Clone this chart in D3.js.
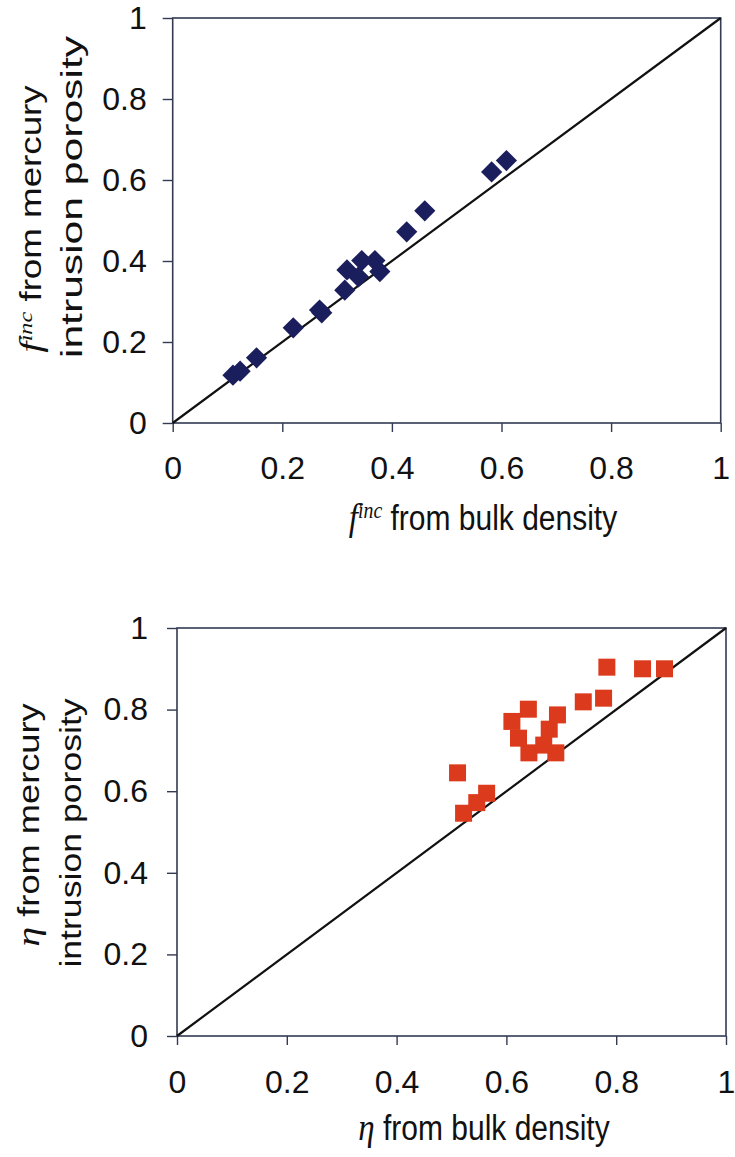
<!DOCTYPE html>
<html>
<head>
<meta charset="utf-8">
<script src="https://cdn.jsdelivr.net/npm/d3@7"></script>
<style>
  body { margin: 0; background: #fff; }
  svg { display: block; }
  .tick text { font-family: "Liberation Sans", Arial, sans-serif; font-size: 32px; fill: #111; }
  .tick line { stroke: #333a52; stroke-width: 1.4; }
</style>
</head>
<body>
<div id="chart"></div>
<script>
// top panel: f_inc, bulk density (x) vs mercury intrusion porosity (y)
const fincBulk = [0.110, 0.123, 0.153, 0.220, 0.268, 0.272, 0.314, 0.318, 0.339, 0.345, 0.369, 0.378, 0.427, 0.460, 0.582, 0.609];
const fincMercury = [0.118, 0.128, 0.161, 0.235, 0.279, 0.272, 0.328, 0.378, 0.361, 0.401, 0.401, 0.374, 0.472, 0.524, 0.620, 0.648];

// bottom panel: eta, bulk density (x) vs mercury intrusion porosity (y)
const etaBulk = [0.522, 0.546, 0.564, 0.511, 0.641, 0.690, 0.668, 0.622, 0.678, 0.610, 0.693, 0.640, 0.740, 0.777, 0.783, 0.848, 0.888];
const etaMercury = [0.546, 0.572, 0.595, 0.645, 0.694, 0.694, 0.713, 0.730, 0.752, 0.771, 0.787, 0.801, 0.819, 0.828, 0.904, 0.900, 0.900];

const tickValues = [0, 0.2, 0.4, 0.6, 0.8, 1];
const identityLine = [0, 1];

const width = 735, height = 1157;
const frameColor = "#333a52";

const svg = d3.select("#chart").append("svg")
    .attr("width", width)
    .attr("height", height);

const panels = [
    {
        xs: fincBulk, ys: fincMercury,
        left: 172.7, right: 720.7, top: 18, bottom: 423,
        marker: "diamond", color: "#1b1e5c", size: 225,
        symbol: "f", sup: "inc",
        yLines: [{ text: " from mercury", cx: 31, cy: 219, len: 268 },
                 { text: "intrusion porosity", cx: 72, cy: 197, len: 323 }],
        xTitle: { text: " from bulk density", cx: 483, y: 530 },
        xPad: 24, yPad: 16
    },
    {
        xs: etaBulk, ys: etaMercury,
        left: 177, right: 726, top: 628, bottom: 1036,
        marker: "square", color: "#dc3a1c", size: 289,
        symbol: "\u03b7", sup: null,
        yLines: [{ text: " from mercury", cx: 29, cy: 825, len: 244 },
                 { text: "intrusion porosity", cx: 71, cy: 833, len: 270 }],
        xTitle: { text: " from bulk density", cx: 484, y: 1140 },
        xPad: 25, yPad: 19
    }
];

function addSymbol(sel, p, size) {
    sel.append("tspan")
        .attr("font-family", "'Liberation Serif', 'DejaVu Serif', serif")
        .attr("font-style", "italic")
        .attr("font-size", size + 3)
        .text(p.symbol);
    if (p.sup) {
        sel.append("tspan")
            .attr("font-family", "'Liberation Serif', 'DejaVu Serif', serif")
            .attr("font-style", "italic")
            .attr("font-size", size * 0.66)
            .attr("dy", -size * 0.33)
            .text(p.sup);
    }
}

panels.forEach(p => {
    const x = d3.scaleLinear().domain([0, 1]).range([p.left, p.right]);
    const y = d3.scaleLinear().domain([0, 1]).range([p.bottom, p.top]);
    const g = svg.append("g");

    // frame
    g.append("rect")
        .attr("x", x(0)).attr("y", y(1))
        .attr("width", x(1) - x(0)).attr("height", y(0) - y(1))
        .attr("fill", "none")
        .attr("stroke", frameColor)
        .attr("stroke-width", 1.6);

    const fmt = d3.format("~g");
    const xAxis = g.append("g")
        .attr("transform", `translate(0,${y(0)})`)
        .call(d3.axisBottom(x).tickValues(tickValues).tickSize(9).tickSizeOuter(0).tickPadding(p.xPad).tickFormat(fmt));
    xAxis.select(".domain").remove();

    const yAxis = g.append("g")
        .attr("transform", `translate(${x(0)},0)`)
        .call(d3.axisLeft(y).tickValues(tickValues).tickSize(10).tickSizeOuter(0).tickPadding(p.yPad).tickFormat(fmt));
    yAxis.select(".domain").remove();

    // 1:1 line
    g.append("path")
        .datum(identityLine)
        .attr("d", d3.line().x(d => x(d)).y(d => y(d)))
        .attr("stroke", "#111")
        .attr("stroke-width", 2.2)
        .attr("fill", "none");

    // points
    const sym = d3.symbol(d3.symbolSquare, p.size);
    g.append("g").selectAll("path")
        .data(p.xs.map((v, i) => [v, p.ys[i]]))
        .join("path")
        .attr("d", sym)
        .attr("transform", d => `translate(${x(d[0])},${y(d[1])})` + (p.marker === "diamond" ? " rotate(45)" : ""))
        .attr("fill", p.color);

    // x title, glyphs a little taller than wide as in the scan
    const xt = g.append("text")
        .attr("transform", `translate(${p.xTitle.cx},${p.xTitle.y}) scale(1,1.18)`)
        .attr("text-anchor", "middle")
        .attr("font-family", "'Liberation Sans', Arial, sans-serif")
        .attr("font-size", 30)
        .attr("fill", "#111");
    addSymbol(xt, p, 30);
    xt.append("tspan")
        .attr("dy", p.sup ? 30 * 0.33 : 0)
        .text(p.xTitle.text);

    // y title, two rotated lines stretched to the measured length
    p.yLines.forEach((ln, i) => {
        const holder = g.append("g")
            .attr("transform", `translate(${ln.cx},${ln.cy}) rotate(-90)`);
        const t = holder.append("text")
            .attr("text-anchor", "middle")
            .attr("dy", "0.35em")
            .attr("font-family", "'Liberation Sans', Arial, sans-serif")
            .attr("font-size", 29)
            .attr("fill", "#111");
        if (i === 0) {
            addSymbol(t, p, 29);
            t.append("tspan").attr("dy", p.sup ? 29 * 0.33 : 0).text(ln.text);
        } else {
            t.text(ln.text);
        }
        const natural = t.node().getBBox().width;
        t.attr("transform", `scale(${ln.len / natural},1)`);
    });
});
</script>
</body>
</html>
